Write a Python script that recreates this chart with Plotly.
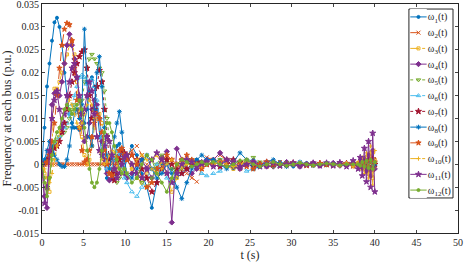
import plotly.graph_objects as go

# time axis (s)
time_s = [0.0, 0.3, 0.6, 0.9, 1.2, 1.5, 1.8, 2.1, 2.4, 2.7,
          3.0, 3.3, 3.6, 3.9, 4.2, 4.5, 4.8, 5.1, 5.4, 5.7,
          6.0, 6.3, 6.6, 6.9, 7.2, 7.5, 7.8, 8.1, 8.4, 8.7,
          9.0, 9.3, 9.6, 9.9,
          10.2, 10.8, 11.4, 12.0, 12.6, 13.2, 13.8, 14.4, 15.0, 15.6,
          16.2, 16.8, 17.4, 18.0, 18.6, 19.2, 19.8,
          20.6, 21.4, 22.2, 23.0, 23.8, 24.6, 25.4, 26.2, 27.0, 27.8,
          28.6, 29.4, 30.2, 31.0, 31.8, 32.6, 33.4, 34.2, 35.0, 35.8,
          36.6, 37.4,
          38.0, 38.25, 38.5, 38.75, 39.0, 39.25, 39.5, 39.75, 40.0]

# frequency deviations, in units of 1e-3 p.u.
w1 = [0, 8, 17, 22, 27, 31, 32, 30, 26, 20, 15, 11, 9, 8, 8, 7.5, 8, 9, 12, 16,
      19, 17, 12, 6, 2, 0, -3, -3.5, -2, 1, 4, 4.5, 2, -1,
      1, 4, 2, -2, -5, -9.5, -4, 0, 1, -1, -3, -2, -1, 0, 1, 0.5, 0,
      0.5, 1, 0, -1, -0.5, 0.5, 1, 0, -0.5, 0, 0.5, 0, -0.5, 0, 0.3, 0, -0.3, 0, 0.2, 0, -0.2, 0,
      0, 0.3, -0.3, 0.5, -0.5, 0.8, -0.8, 1, 0]
w2 = [0, 0, 0, 0, 0, 0, 0, 0, 0, 0, 0, 0, 0, 0, 0, 0, 0, 0, 0, 0,
      0, 0, 0, 0, 0, 0, 0, 0, 0, 0, 0, 0, 0.5, 1,
      2, 3, 4, 2, 0, -1, -2, -1, 0.5, 1, 0, -1, -2, -3, -3.8, -1, 1.5,
      1, 2, 1, -0.5, -1, 0, 0.5, 0, -0.5, 0, 0.5, 0.3, 0, -0.3, 0, 0.2, 0, -0.2, 0, 0.2, 0, 0,
      0, 0.2, -0.2, 0.3, -0.3, 0.5, -0.5, 0.8, 0]
w3 = [0, -2, -5, -6, 4, 16.5, 16.5, 18, 20, 22, 24, 26, 27, 24, 18, 12, 6, 2, 0, 1,
      4, 8, 10, 11, 9, 5, 1, -2, -3, -2, 0, 2, 3, 2,
      1, -1, -3, -4, -2, 1, 2, 0, -2, -6, -3, 0, 1, 0, -1, -0.5, 0.5,
      1, 0.5, -0.5, -1, 0, 1, 0.5, -0.5, 0, 0.5, 0, -0.3, 0, 0.3, 0, -0.3, 0, 0.2, 0, -0.2, 0, 0.5,
      0.3, -0.5, 0.8, -1, 1.5, -2, 2.5, -3, 1]
w4 = [0, -7, -9.5, 2, 13, 15.5, 15.5, 15, 18, 22, 26, 28.4, 26, 23, 19, 14, 9, 5, 6, 9,
      12, 14, 13, 10, 5, 1, -2, -3.5, -3, -1, 1, 2, 0, -2,
      -3, -2, 0, 1, -1, -3, -1, 1.5, 2.8, -12.7, 3.4, 1, -1, -2, -1, 0.5, 1,
      1, 2.5, 1, -0.5, -1, 0, 0.5, 0, -0.5, -0.5, 0, 0.5, 0, -0.5, 0, 0.3, -0.3, 0, 0.3, -0.3, 0, 0.3,
      -0.3, 0.5, -0.8, 1.2, -1.5, 2, -2.5, 3, -1]
w5 = [0, -3, -5.5, -3, 1, 4, 5.5, 6, 6.5, 7, 8, 10, 12, 13, 12, 11, 14, 18, 21, 23,
      24, 23, 22, 21, 20, 16, 10, 5, 1, -2, -4, -3, -1, 1,
      2, 0, -2, -4, -5, -3, 0, 2, 1, -1, -2, -1, 0, 1, 0.5, 0, 0,
      0.5, 1, 0, -0.5, 0, 0.5, 1.5, 0.5, 0, -0.5, 0, 0.3, 0, -0.3, 0, 0.2, 0, -0.2, 0, 0.2, 0, -0.2,
      0, 0.3, -0.3, 0.5, -0.5, 0.7, -0.7, 1, 0]
w6 = [0, 1, 1.5, 2, 3, 4, 5, 6, 7, 8, 9, 11, 13, 15, 17, 19, 19.5, 19, 17.5, 18,
      18.5, 17, 14, 10, 6, 2, -1, -2, -1, 1, 3, 2, 0, -3,
      -4, -6, -7, -5, -3, -1, 0, -1, -3, -4, -2, 0, 1, 0.5, -0.5, -2, -2.5,
      -2, -1.5, 0, 1, 0, -1.5, -1, 0, 0.5, 0, -0.5, 0, 0.3, 0, -0.3, 0, 0.2, 0, -0.2, 0, 0.2, 0,
      0, -0.3, 0.3, -0.4, 0.4, -0.6, 0.6, -0.8, 0]
w7 = [0, 0.5, 1, 2, 3, 3.5, 4, 5, 7, 9, 12, 15, 18, 20, 22, 23.5, 24.5, 25, 21, 15,
      10, 12, 17, 20.5, 18, 12, 6, 1, -2, -3.5, -2, 1, 3, 2.5,
      1, 2, 1, -1, -3, -6, -4, -1, 1, 0, -1, -2, -1, 0, 0.5, 0, 0,
      0, -0.5, 0, 1, 0.5, 0, -0.5, 0, 0.5, 0, -0.3, 0, 0.3, 0, -0.2, 0, 0.2, 0, -0.2, 0, 0.2, -0.3,
      0, 0.2, -0.4, 0.4, -0.6, 0.8, -1, 1.2, 0]
w8 = [0, 1, 3, 5, 4, 2, 1, 0, -0.5, -0.5, 1, 4, 8, 11, 12, 10, 13, 29.5, 18, 6,
      4, 12, 20, 23.5, 17, 8, 2, -1, 2, 6, 9, 11.5, 7, 1,
      -2, -3, -1, 1, 2, -1, -3, -2, 0, -2, -5, -7.5, -4, -1, 1, 2, 1,
      1, 0, -1, 0.5, 2.5, 1, -1, -0.5, 0.5, 1, 0, -0.5, 0, 0.5, 0, -0.3, 0, 0.3, 0, -0.2, 0, 0.2,
      0, -0.3, 0.3, -0.5, 0.5, -0.8, 0.8, -1, 0]
w9 = [0, 0, 0.5, 2, 5, 9, 15, 21, 26, 29.5, 30.8, 30.5, 27, 21, 14, 8, 3, 0.5, 1, 3,
      6, 9, 11, 10, 7, 3, 0, -2, -2.5, -1, 1.5, 3, 3.5, 2,
      1, 2, 0, -3, -5, -4, -1, 1, 2, 1, 0, 1, 2, 1, 0, -1, 0,
      0, 0.5, 1, 0.5, 0, -0.5, -1, 0, 0.5, 0, -0.3, 0, 0.3, 0, -0.2, 0, 0.2, 0, -0.2, 0, 0.1, 0,
      0, -0.2, 0.2, -0.4, 0.4, -0.6, 0.6, -1, 0.5]
w10 = [0, -1, -3, -4, -2, 1, 4, 7, 10, 12, 13, 14, 13, 11, 9, 8, 9, 11, 13, 14,
       13, 10, 6, 3, 1, 0, 0.5, 2, 3, 2.5, 1, -1, -2, -1,
       -2, -1, 1, 2, 1, -1, -2, -1, 0, 1, 0, -0.5, 0, 0.5, 0, -0.5, 0,
       0, 0.5, 0, -0.5, 0, 0.5, 0, -0.3, 0, 0.3, 0, -0.3, 0, 0.3, 0, -0.2, 0, 0.2, 0, -0.3, 0.3, -0.6,
       0.5, -1, 1.5, -2, 2.5, -3, 4, -4.5, 3]
w11 = [0, -8.5, -5, 3, 10, 14, 16, 12, 8, 11, 15, 18, 21, 22, 19, 15, 11, 12, 15, 18,
       16, 11, 6, 3, 2, 4, 6, 5, 2, -1, -3, -2, 0, 1.5,
       2, 0, -2, -3, -1, 1, 2.5, 1, -2, -4, -2, 0, 1, 0.5, -0.5, 0, 0.5,
       -0.5, 0, 1, 0.5, -0.5, 0, 0.5, -0.5, 0, 0.3, -0.3, 0, 0.3, -0.3, 0, 0.3, -0.3, 0.3, -0.3, 0.4, -0.5, 0.8,
       -1, 1.5, -2.5, 3.5, -3.8, 5, -5, 6.8, -6]
w12 = [0, -4, -7, -3, 2, 5, 7, 8, 10, 12, 13, 12, 11, 12, 13, 14, 12, 8, 3, -1,
       -4, -5, -4, -1, 3, 7, 9, 9, 7, 4, 1, -1, -2, -1,
       -2, -4, -3, 0, 2, 1, -2, -4, -6, -3, 0, 1, 0.5, -0.5, 0, 0.5, 0,
       0.5, 0, -0.5, 0, 0.8, 1, 0, -0.5, 0, 0.5, 0, -0.3, 0, 0.3, 0, -0.2, 0, 0.2, 0, -0.2, 0, 0,
       0, -0.3, 0.5, -0.5, 0.8, -0.8, 1, -1, 0.5]

series = [w1, w2, w3, w4, w5, w6, w7, w8, w9, w10, w11, w12]
names = ["ω<sub>%d</sub>(t)" % i for i in range(1, 13)]

y_tick_vals = [-0.015, -0.01, -0.005, 0, 0.005, 0.01, 0.015, 0.02, 0.025, 0.03, 0.035]
y_tick_text = ["-0.015", "-0.01", "-0.005", "0", "0.005", "0.01", "0.015", "0.02", "0.025", "0.03", "0.035"]
x_tick_vals = [0, 5, 10, 15, 20, 25, 30, 35, 40, 45, 50]

for s in series:
    assert len(s) == len(time_s), (len(s), len(time_s))

styles = [
    ("#0072BD", "solid", "circle", 3),
    ("#D95319", "dash", "x-thin-open", 4),
    ("#EDB120", "dashdot", "square-open", 3),
    ("#7E2F8E", "solid", "diamond", 4),
    ("#77AC30", "dot", "triangle-down-open", 4),
    ("#4DBEEE", "dashdot", "triangle-up-open", 4),
    ("#A2142F", "dot", "star", 4.5),
    ("#0072BD", "solid", "asterisk-open", 4),
    ("#D95319", "dash", "star", 4),
    ("#EDB120", "dashdot", "cross-thin-open", 3),
    ("#7E2F8E", "solid", "star", 4.5),
    ("#77AC30", "solid", "circle", 3),
]

font_family = "Liberation Serif"
axis_col = "#262626"

fig = go.Figure()
for s, name, (col, dash, sym, size) in zip(series, names, styles):
    fig.add_trace(go.Scatter(
        x=time_s, y=[v / 1000 for v in s], name=name, mode="lines+markers",
        line=dict(color=col, width=1, dash=dash),
        marker=dict(symbol=sym, size=size, color=col, line=dict(color=col, width=1)),
        showlegend=False,
    ))

# legend key: one row per series on an inset category axis (x2/y2)
for name, (col, dash, sym, size) in zip(names, styles):
    fig.add_trace(go.Scatter(
        x=[0.0, 1.0], y=[name, name], mode="lines", xaxis="x2", yaxis="y2",
        line=dict(color=col, width=1, dash=dash), showlegend=False, hoverinfo="skip",
    ))
    fig.add_trace(go.Scatter(
        x=[0.5], y=[name], mode="markers", xaxis="x2", yaxis="y2",
        marker=dict(symbol=sym, size=size, color=col, line=dict(color=col, width=1)),
        showlegend=False, hoverinfo="skip",
    ))

# plot area spans px x 42..458, y 4..233 (paper coords below)
leg_x0, leg_x1 = 0.882, 0.988
leg_y0, leg_y1 = 0.153, 0.978

fig.update_layout(
    width=464, height=262,
    margin=dict(l=42, r=6, t=4, b=29),
    paper_bgcolor="white", plot_bgcolor="white",
    font=dict(family=font_family, size=10, color=axis_col),
    showlegend=False,
    shapes=[dict(type="rect", xref="paper", yref="paper",
                 x0=leg_x0, x1=leg_x1, y0=leg_y0, y1=leg_y1,
                 line=dict(color=axis_col, width=1), fillcolor="white", layer="below")],
    xaxis2=dict(domain=[leg_x0 + 0.003, leg_x0 + 0.043], range=[0, 1], visible=False,
                anchor="y2", fixedrange=True),
    yaxis2=dict(domain=[leg_y0, leg_y1], type="category", categoryorder="array",
                categoryarray=names, range=[11.5, -0.5], anchor="x2", side="right",
                showgrid=False, zeroline=False, showline=False, ticks="",
                tickfont=dict(family=font_family, size=10, color=axis_col),
                automargin=False, fixedrange=True),
    xaxis=dict(
        range=[0, 50], tickvals=x_tick_vals, ticks="inside", ticklen=3,
        showline=True, linecolor=axis_col, linewidth=1, mirror="ticks",
        showgrid=False, zeroline=False, automargin=False, ticklabeloverflow="allow",
        title=dict(text="t (s)", font=dict(size=12), standoff=0),
        tickfont=dict(size=10),
    ),
    yaxis=dict(
        range=[-0.015, 0.035], tickvals=y_tick_vals, ticktext=y_tick_text,
        ticks="inside", ticklen=3,
        showline=True, linecolor=axis_col, linewidth=1, mirror="ticks",
        showgrid=False, zeroline=False, automargin=False, ticklabeloverflow="allow",
        title=dict(text="Frequency at each bus (p.u.)", font=dict(size=12), standoff=0),
        tickfont=dict(size=10),
    ),
)

fig.write_html("out.html", config={"displayModeBar": False},
               post_script="document.body.style.margin='0px';")
